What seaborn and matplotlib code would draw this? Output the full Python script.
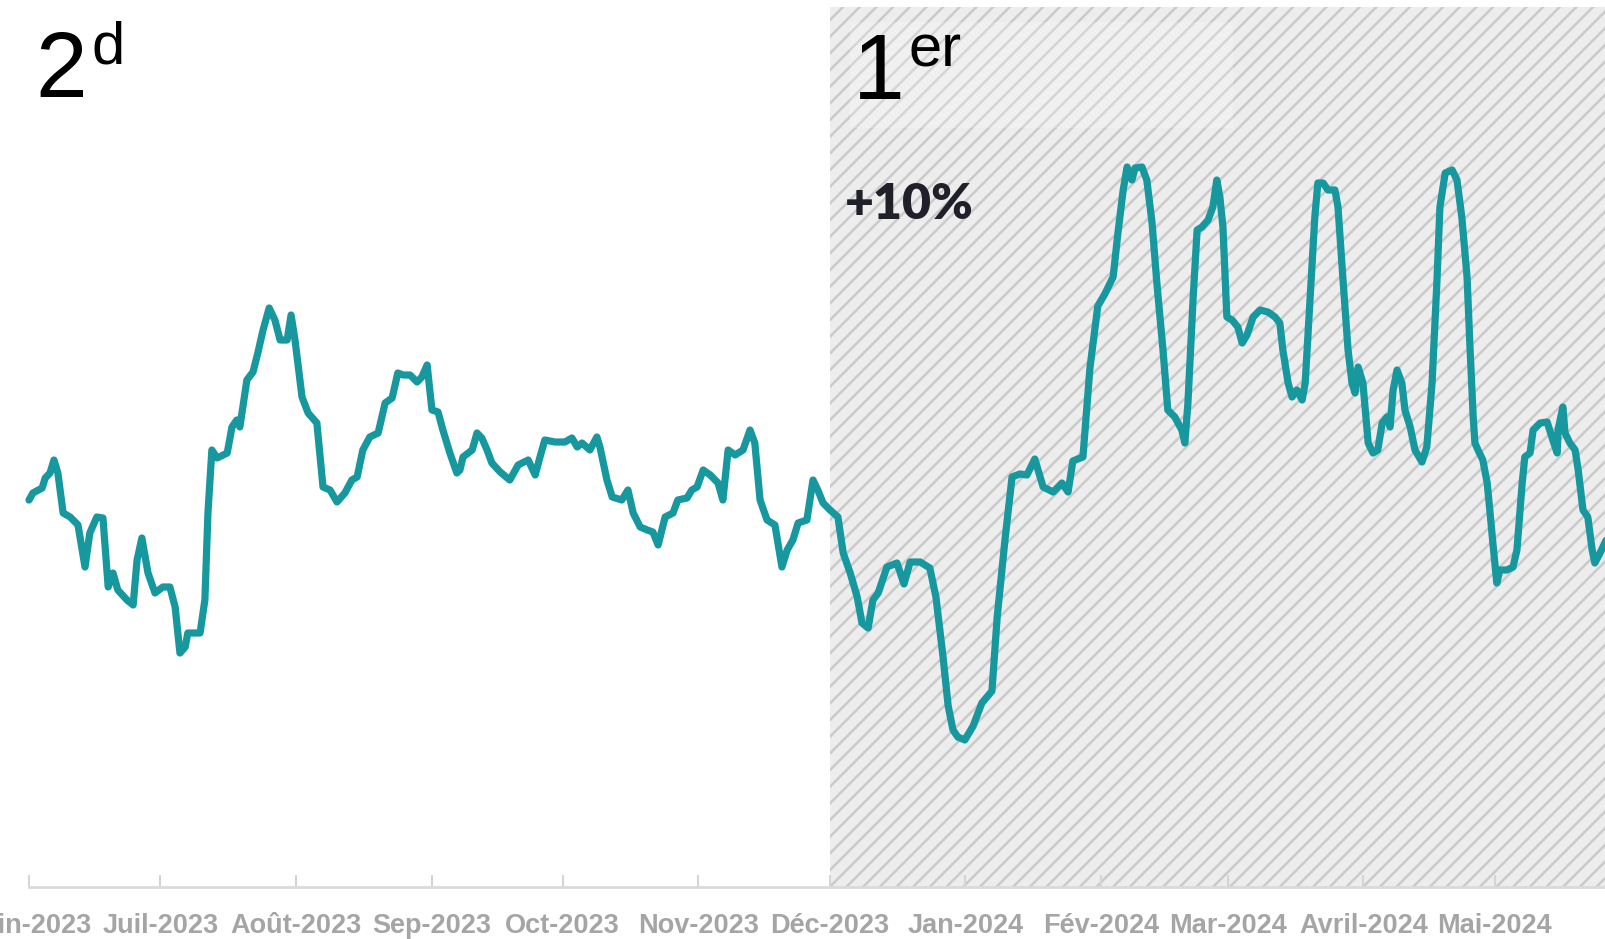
import matplotlib
matplotlib.use("Agg")
import matplotlib.pyplot as plt
import seaborn as sns
import pandas as pd
from matplotlib.patches import Rectangle

# ---------------- data ----------------
# days since 2023-06-01, and the series value (arbitrary index units)
days = [0.0, 0.9, 3.0, 3.7, 4.8, 5.7, 6.6, 7.8, 9.4, 11.2, 12.8, 13.9, 15.5, 16.9, 18.1, 19.2, 20.3,
        22.4, 23.8, 24.7, 25.8, 27.2, 28.8, 30.6, 32.2, 33.4, 34.5, 35.7, 36.3, 39.1, 40.2, 40.9,
        41.8, 43.0, 45.3, 46.4, 47.5, 48.2, 49.8, 51.2, 52.3, 53.5, 54.9, 56.2, 57.4, 59.0, 59.9,
        60.8, 62.4, 63.8, 65.8, 67.2, 68.8, 70.4, 72.2, 73.8, 75.0, 76.3, 77.9, 79.8, 81.4, 83.0,
        84.3, 85.5, 87.1, 88.7, 89.8, 91.0, 92.1, 93.5, 94.6, 96.2, 97.8, 98.5, 99.2, 101.3, 102.4,
        103.5, 104.7, 105.8, 107.7, 109.9, 111.8, 114.1, 115.7, 116.8, 117.9, 120.2, 122.5, 124.1,
        125.3, 126.4, 128.2, 129.8, 130.5, 132.1, 133.3, 135.5, 136.9, 138.1, 139.7, 141.3, 142.6,
        143.8, 145.4, 147.2, 148.3, 150.4, 151.5, 152.7, 154.1, 155.7, 157.5, 158.6, 159.8, 161.4,
        163.2, 164.8, 165.9, 167.1, 168.7, 170.5, 172.1, 173.3, 174.6, 175.8, 177.8, 179.2, 180.3,
        181.5, 183.1, 184.9, 186.1, 187.7, 189.3, 190.4, 191.8, 192.9, 194.1, 196.1, 198.4, 200.0,
        201.4, 203.7, 205.9, 207.3, 208.9, 210.1, 211.2, 212.3, 213.9, 215.8, 217.8, 220.1, 221.3,
        223.1, 224.7, 226.5, 228.1, 229.9, 231.8, 234.1, 236.1, 237.5, 238.6, 240.9, 242.5, 244.3,
        245.9, 247.8, 248.9, 250.1, 251.0, 252.1, 252.8, 254.4, 255.5, 256.7, 257.8, 259.2, 260.3,
        261.9, 263.5, 264.2, 264.9, 266.1, 267.0, 268.1, 269.5, 270.6, 271.5, 272.2, 272.9, 273.8,
        275.0, 276.3, 277.3, 278.4, 279.8, 281.4, 283.2, 284.8, 285.9, 286.6, 287.8, 288.7, 289.8,
        291.0, 291.7, 292.8, 293.9, 294.6, 295.8, 296.9, 298.5, 299.2, 300.3, 301.5, 302.4, 303.1,
        303.8, 304.9, 306.1, 307.2, 308.3, 309.3, 310.4, 311.1, 311.8, 312.7, 313.8, 314.5, 315.7,
        316.8, 318.4, 319.5, 320.7, 321.8, 322.5, 323.7, 325.3, 326.4, 327.5, 328.7, 329.4, 330.1,
        330.5, 331.2, 332.3, 333.3, 333.9, 334.6, 335.5, 336.2, 337.8, 339.2, 340.1, 341.3, 341.9,
        343.1, 343.8, 345.4, 347.0, 348.3, 349.3, 349.5, 350.6, 351.1, 352.2, 353.4, 354.1, 355.2,
        356.3, 357.3, 357.9, 359.1, 360.5]

values = [40.0, 40.7, 41.2, 42.2, 42.7, 44.0, 42.7, 38.7, 38.3, 37.5, 33.3, 36.7, 38.3, 38.2, 31.3, 32.7, 31.0,
          30.0, 29.5, 34.0, 36.2, 32.7, 30.7, 31.3, 31.3, 29.3, 24.7, 25.3, 26.7, 26.7, 30.0, 38.7,
          45.0, 44.2, 44.7, 47.3, 48.0, 47.3, 52.0, 52.8, 54.7, 57.0, 59.2, 58.0, 56.0, 56.0, 58.5,
          56.0, 50.3, 48.7, 47.7, 41.3, 41.0, 39.8, 40.7, 42.0, 42.3, 45.0, 46.3, 46.7, 49.7, 50.2,
          52.7, 52.5, 52.5, 51.8, 52.3, 53.5, 49.0, 48.8, 47.0, 44.7, 42.7, 43.0, 44.3, 45.0, 46.7,
          46.2, 45.0, 43.7, 42.8, 42.0, 43.5, 44.0, 42.5, 44.3, 46.0, 45.8, 45.8, 46.2,
          45.3, 45.7, 45.0, 46.3, 45.3, 42.0, 40.3, 40.0, 41.0, 38.7, 37.3, 37.0, 36.8,
          35.5, 38.3, 38.7, 40.0, 40.2, 41.0, 41.3, 43.0, 42.5, 41.7, 40.0, 45.0, 44.5,
          45.0, 47.0, 45.7, 40.0, 38.0, 37.5, 33.3, 35.0, 36.0, 37.7, 38.0, 42.0, 41.0,
          39.7, 39.0, 38.3, 34.7, 32.7, 30.3, 27.7, 27.2, 30.0, 30.7, 33.3, 33.7, 31.6,
          33.8, 33.8, 33.2, 30.3, 24.4, 19.4, 17.0, 16.3, 16.0, 17.4, 19.7, 20.9, 28.3,
          36.1, 42.3, 42.6, 42.5, 44.1, 41.3, 40.8, 41.7, 40.8, 43.9, 44.3, 53.2, 59.4,
          60.6, 62.3, 66.7, 71.0, 73.3, 72.0, 73.2, 73.3, 72.0, 67.7, 61.7, 55.0, 49.0,
          48.3, 47.0, 45.7, 49.7, 60.3, 67.0, 67.3, 68.0, 69.3, 72.0, 70.3, 67.3, 58.3,
          58.0, 57.3, 55.7, 56.5, 58.3, 59.0, 58.8, 58.3, 57.7, 55.0, 51.7, 50.3, 51.0,
          50.0, 51.7, 60.0, 68.3, 71.7, 71.7, 71.0, 71.0, 69.3, 62.3, 55.0, 51.7, 50.7,
          53.3, 51.7, 45.7, 44.7, 45.0, 47.7, 48.3, 47.3, 51.0, 53.0, 51.7, 49.0, 47.3,
          45.0, 43.8, 45.3, 51.7, 61.7, 69.3, 72.7, 73.0, 72.0, 68.3, 62.3, 55.0, 48.3,
          45.7, 45.0, 44.0, 41.7, 39.0, 35.7, 31.7, 33.0, 33.0, 33.3, 35.0, 41.7, 44.3,
          44.7, 47.0, 47.7, 47.8, 46.0, 44.7, 47.0, 49.3, 46.7, 45.7, 45.0, 43.0, 39.0,
          38.3, 35.0, 33.7, 34.7, 36.0]

month_days = [0, 30, 61, 92, 122, 153, 183, 214, 245, 274, 305, 335]
month_labels = ["Juin-2023", "Juil-2023", "Août-2023", "Sep-2023", "Oct-2023", "Nov-2023",
                "Déc-2023", "Jan-2024", "Fév-2024", "Mar-2024", "Avril-2024", "Mai-2024"]
highlight_start = 183  # 1 Dec 2023

rank_left, rank_left_sup = "2", "d"
rank_right, rank_right_sup = "1", "er"
change_label = "+10%"

# ---------------- style ----------------
TEAL = "#17989E"
sns.set_theme(style="white")
plt.rcParams['font.family'] = ['Liberation Sans', 'DejaVu Sans']
plt.rcParams['hatch.linewidth'] = 1.8
plt.rcParams['hatch.color'] = '#CACACA'

W, H = 1606, 939
fig = plt.figure(figsize=(W / 100, H / 100), dpi=100)
fig.patch.set_facecolor("white")
ax = fig.add_axes([0, 52 / H, 1, 880 / H])
ax.set_facecolor("white")

x_left, x_right = -6.63, 360.46
ax.set_xlim(x_left, x_right)
ax.set_ylim(1.3, 89.3)

# hatched period
ax.axvspan(highlight_start, x_right, facecolor="#EDEDED", edgecolor="#CACACA",
           hatch="//", linewidth=0, zorder=0)
ax.add_patch(Rectangle((0.529, 0.8625), 0.239, 0.12, transform=ax.transAxes,
                       facecolor="white", alpha=0.22, edgecolor="none", zorder=1))

df = pd.DataFrame({"day": days, "value": values})
sns.lineplot(data=df, x="day", y="value", ax=ax, color=TEAL, linewidth=5.2,
             estimator=None, sort=False, solid_joinstyle="round", solid_capstyle="round",
             zorder=3)

for s in ["left", "top", "right"]:
    ax.spines[s].set_visible(False)
ax.spines["bottom"].set_color("#DADADA")
ax.spines["bottom"].set_linewidth(2)
ax.spines["bottom"].set_bounds(0, x_right)

ax.set_xticks(month_days)
ax.set_xticklabels(month_labels, fontweight="bold")
ax.tick_params(axis="x", direction="in", length=9, width=1.5, color="#D5D5D5",
               pad=19, labelsize=19.5, labelcolor="#A5A5A5", bottom=True)
ax.set_yticks([])
ax.set_xlabel("")
ax.set_ylabel("")

# annotations
fig.text(35 / W, 1 - 97 / H, rank_left, fontsize=67, color="black", ha="left", va="baseline")
fig.text(92 / W, 1 - 63.5 / H, rank_left_sup, fontsize=43, color="black", ha="left", va="baseline")
fig.text(853 / W, 1 - 99 / H, rank_right, fontsize=67, color="black", ha="left", va="baseline")
fig.text(909 / W, 1 - 66.5 / H, rank_right_sup, fontsize=43, color="black", ha="left", va="baseline")
fig.text(845 / W, 1 - 219 / H, change_label, fontsize=36, fontweight="heavy", color="#20202A",
         family=["Lato", "DejaVu Sans"], ha="left", va="baseline")

fig.savefig("out.png", dpi=100, facecolor="white")
